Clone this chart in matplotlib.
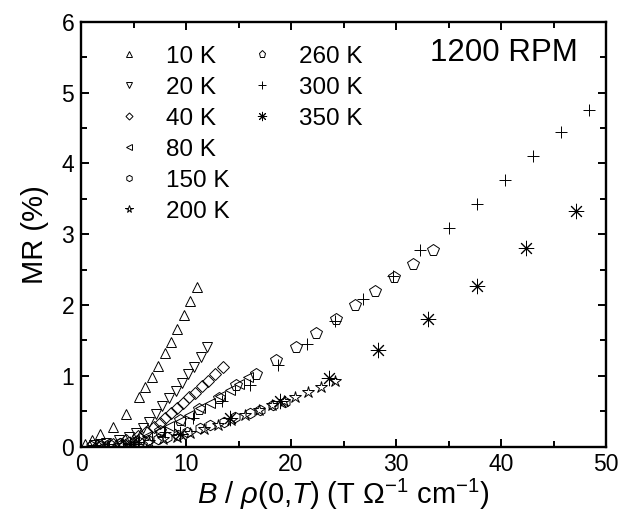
import matplotlib
matplotlib.use("Agg")
import matplotlib.pyplot as plt
from matplotlib.ticker import MultipleLocator

plt.rcParams.update({
    "font.family": "Liberation Sans",
    "mathtext.fontset": "custom",
    "mathtext.rm": "Liberation Sans",
    "mathtext.it": "Liberation Sans:italic",
})

# MR (%) vs B / rho(0,T)
x_10 = [0.4, 1.0, 1.8, 3.0, 4.25, 5.49, 6.13, 6.76, 7.36, 7.97, 8.57, 9.17, 9.81, 10.4, 11.0]
y_10 = [0.04, 0.09, 0.17, 0.27, 0.46, 0.70, 0.84, 0.98, 1.14, 1.32, 1.48, 1.66, 1.86, 2.05, 2.25]

x_20 = [1.2, 2.4, 3.6, 4.6, 5.21, 5.88, 6.50, 7.11, 7.74, 8.38, 9.02, 9.59, 10.19, 10.79, 11.40, 12.03]
y_20 = [0.02, 0.05, 0.09, 0.14, 0.19, 0.26, 0.35, 0.46, 0.57, 0.68, 0.79, 0.90, 1.02, 1.13, 1.26, 1.40]

x_40 = [1.5, 3.0, 4.3, 5.4, 6.2, 6.9, 7.5, 8.0, 8.54, 9.11, 9.75, 10.31, 10.86, 11.49, 12.13, 12.76, 13.49]
y_40 = [0.01, 0.04, 0.09, 0.15, 0.21, 0.27, 0.33, 0.40, 0.47, 0.54, 0.62, 0.70, 0.76, 0.85, 0.93, 1.03, 1.12]

x_80 = [2.0, 3.5, 5.0, 6.3, 7.4, 8.4, 9.4, 10.3, 11.3, 12.3, 13.2, 14.2, 15.0, 15.9]
y_80 = [0.01, 0.04, 0.09, 0.15, 0.22, 0.29, 0.36, 0.45, 0.54, 0.61, 0.71, 0.80, 0.89, 0.98]

x_150 = [0.9, 1.8, 2.7, 3.7, 4.6, 5.5, 6.4, 7.3, 8.2, 9.2, 10.1, 11.3, 12.3, 13.6, 14.7, 16.1, 17.0, 18.3, 19.4]
y_150 = [0.01, 0.01, 0.03, 0.05, 0.06, 0.07, 0.09, 0.11, 0.13, 0.16, 0.20, 0.26, 0.31, 0.35, 0.41, 0.47, 0.51, 0.59, 0.63]

x_200 = [1.3, 2.6, 3.9, 5.2, 6.5, 7.8, 9.1, 10.4, 11.7, 13.0, 14.3, 15.6, 16.9, 18.2, 19.3, 20.4, 21.6, 22.86, 24.2]
y_200 = [0.00, 0.01, 0.02, 0.04, 0.06, 0.10, 0.14, 0.19, 0.25, 0.31, 0.37, 0.44, 0.51, 0.58, 0.65, 0.70, 0.77, 0.84, 0.93]

x_260 = [1.9, 3.75, 5.6, 7.5, 9.43, 11.27, 13.1, 14.8, 16.67, 18.6, 20.48, 22.35, 24.26, 26.10, 27.97, 29.81, 31.65, 33.49]
y_260 = [0.01, 0.04, 0.10, 0.22, 0.37, 0.53, 0.68, 0.87, 1.03, 1.22, 1.41, 1.61, 1.80, 2.00, 2.19, 2.39, 2.58, 2.78]

x_300 = [2.7, 5.4, 8.0, 10.7, 13.4, 16.1, 18.8, 21.5, 24.2, 26.9, 29.7, 32.3, 35.0, 37.7, 40.4, 43.0, 45.7, 48.4]
y_300 = [0.01, 0.06, 0.20, 0.40, 0.64, 0.87, 1.15, 1.45, 1.77, 2.09, 2.41, 2.77, 3.09, 3.43, 3.77, 4.10, 4.44, 4.75]

x_350 = [4.7, 9.4, 14.2, 18.9, 23.6, 28.3, 33.0, 37.7, 42.4, 47.1]
y_350 = [0.04, 0.17, 0.40, 0.65, 0.97, 1.36, 1.80, 2.27, 2.80, 3.32]

series = [
    ("10 K", x_10, y_10, "^", 7.5),
    ("20 K", x_20, y_20, "v", 7.5),
    ("40 K", x_40, y_40, "D", 6.0),
    ("80 K", x_80, y_80, "<", 7.5),
    ("150 K", x_150, y_150, "h", 7.5),
    ("200 K", x_200, y_200, "*", 9.0),
    ("260 K", x_260, y_260, "p", 8.5),
    ("300 K", x_300, y_300, "+", 9.0),
    ("350 K", x_350, y_350, (8, 2, 0), 11.0),
]

fig = plt.figure(figsize=(6.19, 5.18), dpi=100)
ax = fig.add_axes([0.131, 0.138, 0.848, 0.820])

handles = []
for label, xs, ys, mk, ms in series:
    (h,) = ax.plot(xs, ys, ls="none", marker=mk, ms=ms, mfc="none",
                   mec="black", mew=0.7, color="black", label=label)
    handles.append(h)

ax.set_xlim(0, 50)
ax.set_ylim(0, 6)
ax.xaxis.set_major_locator(MultipleLocator(10))
ax.xaxis.set_minor_locator(MultipleLocator(5))
ax.yaxis.set_major_locator(MultipleLocator(1))
ax.yaxis.set_minor_locator(MultipleLocator(0.5))
ax.tick_params(which="both", direction="in", top=True, right=True,
               labelsize=16.5, width=1.4, pad=5)
ax.tick_params(which="major", length=6)
ax.tick_params(which="minor", length=4)
for s in ax.spines.values():
    s.set_linewidth(1.7)

ax.set_xlabel(r"$B$ / $\rho$(0,$T$) (T $\Omega^{-1}$ cm$^{-1}$)", fontsize=21, labelpad=0)
ax.set_ylabel("MR (%)", fontsize=21, labelpad=9)

leg_kw = dict(frameon=False, fontsize=17.5, markerscale=0.6, handlelength=1.0,
              handletextpad=1.0, labelspacing=0.37, borderaxespad=0,
              borderpad=0)
leg1 = ax.legend(handles=handles[:6], loc="upper left",
                 bbox_to_anchor=(0.069, 0.944), **leg_kw)
ax.add_artist(leg1)
ax.legend(handles=handles[6:], loc="upper left",
          bbox_to_anchor=(0.322, 0.944), **leg_kw)

ax.text(0.947, 0.926, "1200 RPM", transform=ax.transAxes, ha="right",
        va="center", fontsize=22.5)

fig.savefig("out.png", dpi=100)
